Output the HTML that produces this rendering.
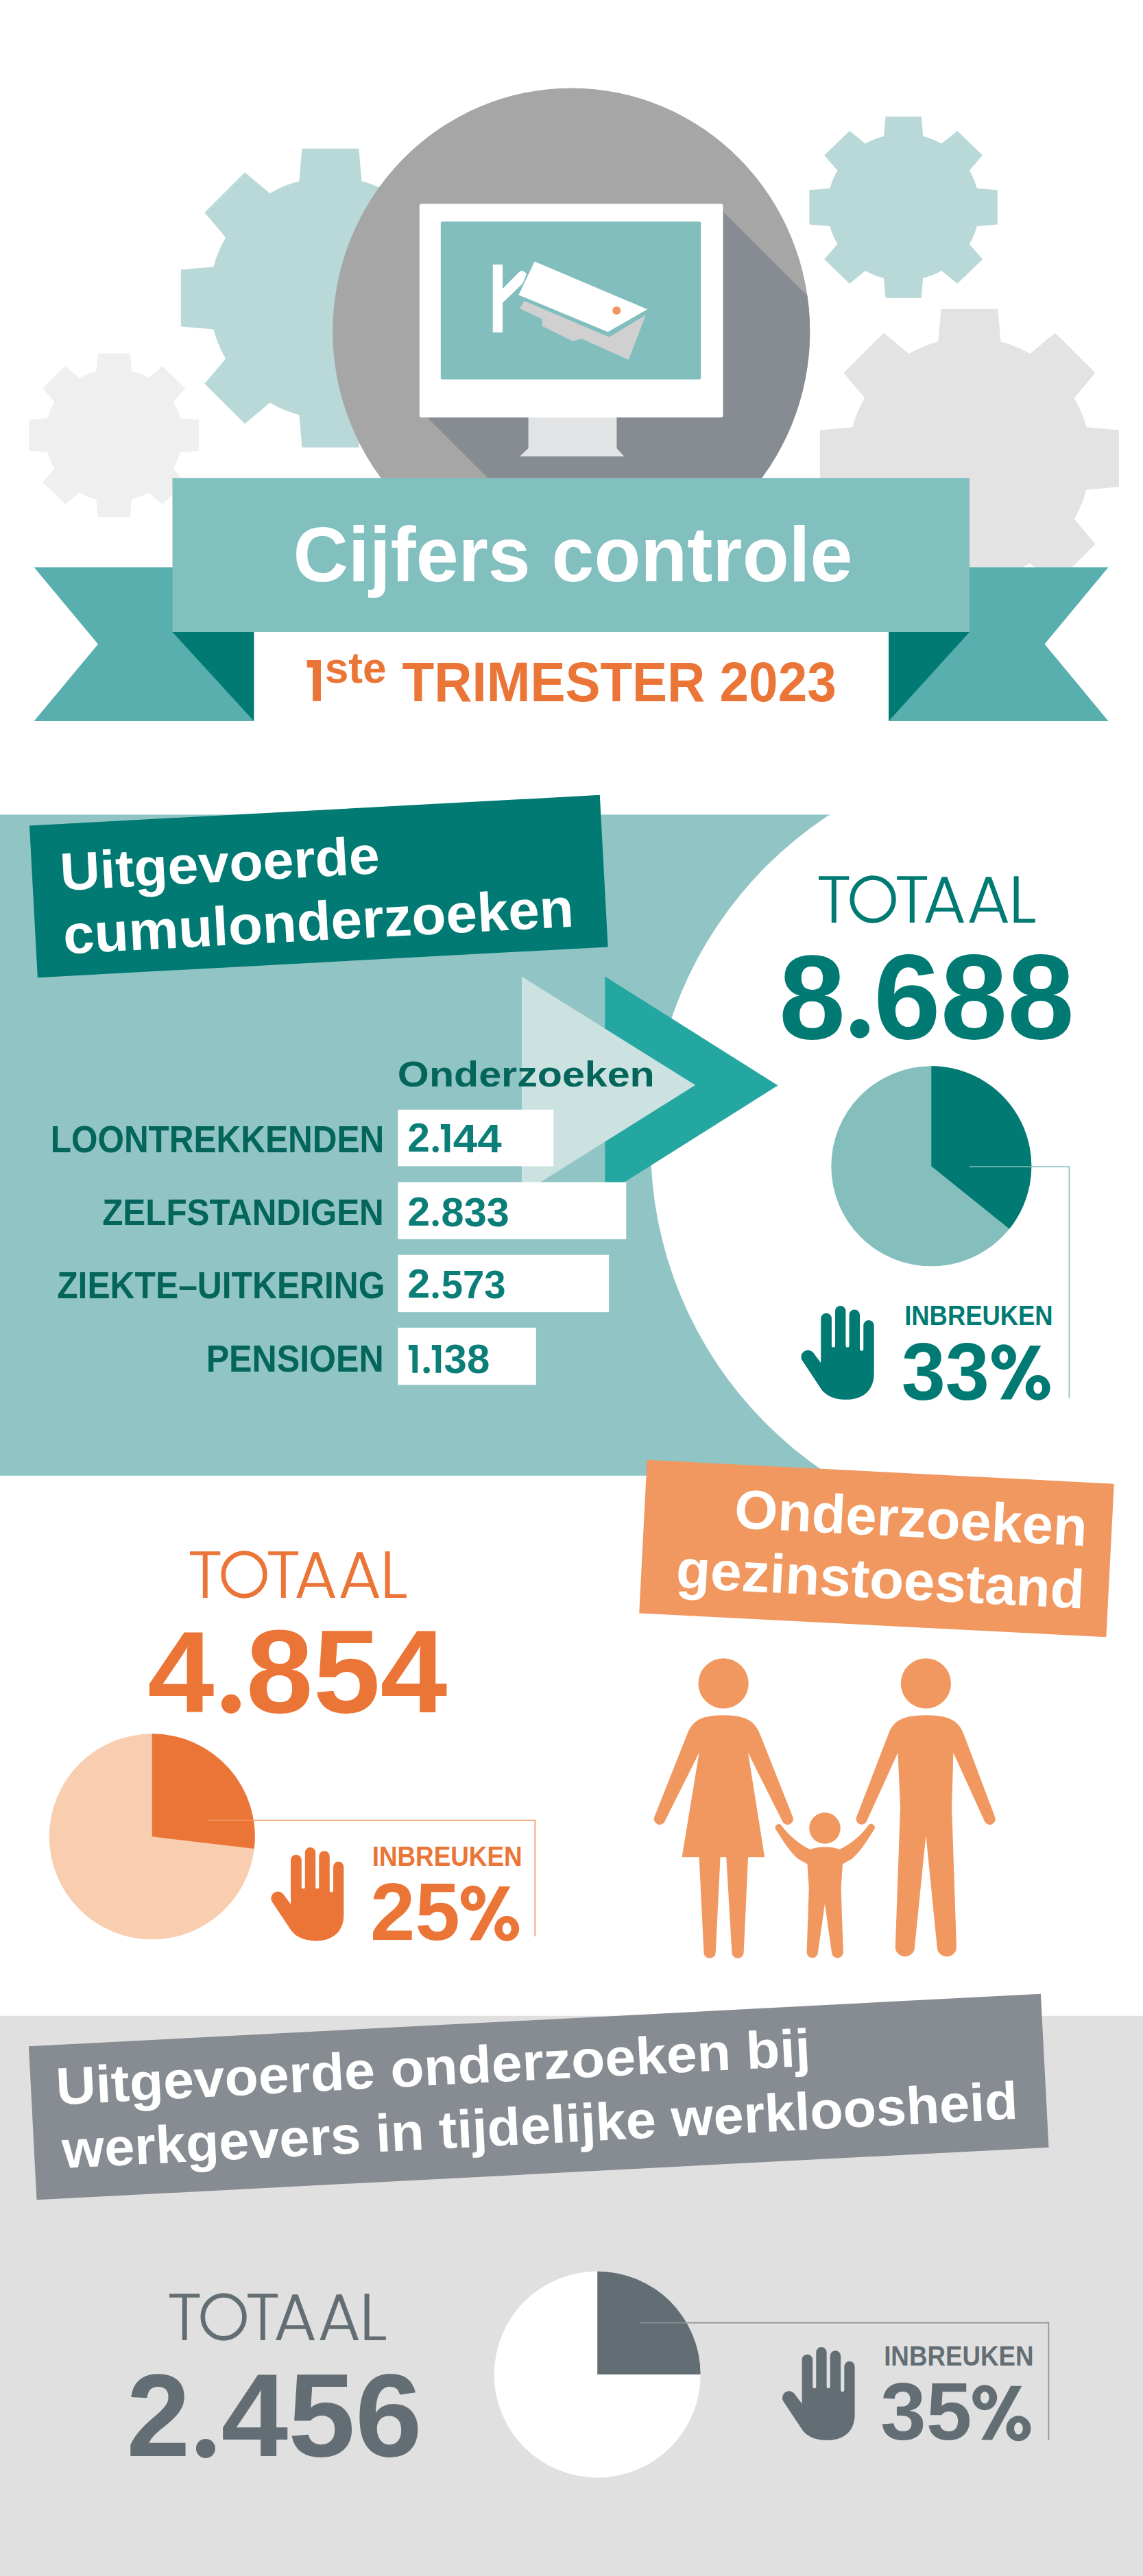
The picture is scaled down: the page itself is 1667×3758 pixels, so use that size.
<!DOCTYPE html>
<html><head><meta charset="utf-8"><title>Cijfers controle</title>
<style>html,body{margin:0;padding:0;background:#fff}svg{display:block}text{font-family:"Liberation Sans", sans-serif}</style>
</head><body>
<svg width="1667" height="3758" viewBox="0 0 1667 3758">
<rect width="1667" height="3758" fill="#fff"/>

<path d="M436.34 264.37 L440.48 216.85 L523.32 216.85 L527.46 264.37 A176.46 176.46 0 0 1 570.23 282.09 L606.76 251.41 L665.34 309.99 L634.66 346.52 A176.46 176.46 0 0 1 652.38 389.29 L699.90 393.43 L699.90 476.27 L652.38 480.41 A176.46 176.46 0 0 1 634.66 523.18 L665.34 559.71 L606.76 618.29 L570.23 587.61 A176.46 176.46 0 0 1 527.46 605.33 L523.32 652.85 L440.48 652.85 L436.34 605.33 A176.46 176.46 0 0 1 393.57 587.61 L357.04 618.29 L298.46 559.71 L329.14 523.18 A176.46 176.46 0 0 1 311.42 480.41 L263.90 476.27 L263.90 393.43 L311.42 389.29 A176.46 176.46 0 0 1 329.14 346.52 L298.46 309.99 L357.04 251.41 L393.57 282.09 A176.46 176.46 0 0 1 436.34 264.37 Z" fill="#b9d8d8"/><path d="M140.35 541.47 L142.70 515.40 L189.70 515.40 L192.05 541.47 A100.13 96.81 0 0 1 216.32 551.19 L237.05 534.36 L270.29 566.50 L252.88 586.54 A100.13 96.81 0 0 1 262.93 610.00 L289.90 612.28 L289.90 657.72 L262.93 660.00 A100.13 96.81 0 0 1 252.88 683.46 L270.29 703.50 L237.05 735.64 L216.32 718.81 A100.13 96.81 0 0 1 192.05 728.53 L189.70 754.60 L142.70 754.60 L140.35 728.53 A100.13 96.81 0 0 1 116.08 718.81 L95.35 735.64 L62.11 703.50 L79.52 683.46 A100.13 96.81 0 0 1 69.47 660.00 L42.50 657.72 L42.50 612.28 L69.47 610.00 A100.13 96.81 0 0 1 79.52 586.54 L62.11 566.50 L95.35 534.36 L116.08 551.19 A100.13 96.81 0 0 1 140.35 541.47 Z" fill="#efefef"/><path d="M1288.93 198.76 L1291.53 169.90 L1343.67 169.90 L1346.27 198.76 A111.06 107.17 0 0 1 1373.19 209.52 L1396.18 190.89 L1433.05 226.47 L1413.74 248.66 A111.06 107.17 0 0 1 1424.89 274.63 L1454.80 277.14 L1454.80 327.46 L1424.89 329.97 A111.06 107.17 0 0 1 1413.74 355.94 L1433.05 378.13 L1396.18 413.71 L1373.19 395.08 A111.06 107.17 0 0 1 1346.27 405.84 L1343.67 434.70 L1291.53 434.70 L1288.93 405.84 A111.06 107.17 0 0 1 1262.01 395.08 L1239.02 413.71 L1202.15 378.13 L1221.46 355.94 A111.06 107.17 0 0 1 1210.31 329.97 L1180.40 327.46 L1180.40 277.14 L1210.31 274.63 A111.06 107.17 0 0 1 1221.46 248.66 L1202.15 226.47 L1239.02 190.89 L1262.01 209.52 A111.06 107.17 0 0 1 1288.93 198.76 Z" fill="#b9d8d8"/><path d="M1368.32 498.35 L1372.46 450.80 L1455.34 450.80 L1459.48 498.35 A176.54 176.54 0 0 1 1502.27 516.07 L1538.82 485.38 L1597.42 543.98 L1566.73 580.53 A176.54 176.54 0 0 1 1584.45 623.32 L1632.00 627.46 L1632.00 710.34 L1584.45 714.48 A176.54 176.54 0 0 1 1566.73 757.27 L1597.42 793.82 L1538.82 852.42 L1502.27 821.73 A176.54 176.54 0 0 1 1459.48 839.45 L1455.34 887.00 L1372.46 887.00 L1368.32 839.45 A176.54 176.54 0 0 1 1325.53 821.73 L1288.98 852.42 L1230.38 793.82 L1261.07 757.27 A176.54 176.54 0 0 1 1243.35 714.48 L1195.80 710.34 L1195.80 627.46 L1243.35 623.32 A176.54 176.54 0 0 1 1261.07 580.53 L1230.38 543.98 L1288.98 485.38 L1325.53 516.07 A176.54 176.54 0 0 1 1368.32 498.35 Z" fill="#e3e3e3"/>
<defs><clipPath id="cc"><ellipse cx="833.25" cy="483.5" rx="348" ry="355"/></clipPath>
<clipPath id="sec2"><rect x="0" y="1188.4" width="1667" height="964.4"/></clipPath></defs>
<ellipse cx="833.25" cy="483.5" rx="348" ry="355" fill="#a6a6a6"/>
<g clip-path="url(#cc)">
<path d="M1054.5 308.5 L1654.5 908.5 L1223 1209 L623 609 Z" fill="#878b92"/>
</g>
<rect x="611.8" y="297.3" width="442.7" height="311.7" rx="3" fill="#ffffff"/>
<rect x="642.8" y="323.2" width="379.4" height="230.3" rx="2" fill="#82bebe"/>
<path d="M770.6 609 L899.4 609 L899.4 654 L910.3 665.8 L757.9 665.8 L770.6 654 Z" fill="#e2e3e5"/>
<!-- camera -->
<path d="M764.8 438.9 L888.4 491.7 L941.8 459.4 L916.8 524.7 L847.9 494 L835.8 498.1 L791 475.8 L791 465.5 L758 450.1 Z" fill="#d0d0d0"/>
<rect x="718.7" y="385.9" width="14.3" height="99" fill="#fff"/>
<path d="M733 421.2 L756.5 397.6 A6 6 0 0 1 765 396.5 L768 399.5 L762.6 413.2 L733 441.7 Z" fill="#fff"/>
<path d="M779.6 381.4 L944.1 451.2 L886.5 484.2 L756.4 430.3 Z" fill="#fff"/>
<circle cx="899.3" cy="453" r="6.1" fill="#f0965f"/>
<!-- banner -->
<path d="M49.6 827.5 L370.3 827.5 L370.3 1052 L49.6 1052 L143 939.7 Z" fill="#58afae"/>
<path d="M251.5 922 L370.3 922 L370.3 1052 Z" fill="#007a73"/>
<path d="M1616.5 827.5 L1296 827.5 L1296 1052 L1616.5 1052 L1523.5 939.7 Z" fill="#58afae"/>
<path d="M1414 922 L1296 922 L1296 1052 Z" fill="#007a73"/>
<rect x="251.5" y="697.3" width="1162.5" height="224.7" fill="#82bfbf"/>
<text x="427.46" y="848.00" font-size="112.26" font-weight="700" fill="#fff" textLength="815.92" lengthAdjust="spacingAndGlyphs">Cijfers controle</text>
<path d="M447.7 962.9 L468 962.9 L468 1022.8 L456.1 1022.8 L456.1 973.8 L447.7 973.8 Z" fill="#eb7537"/><text x="473.63" y="995.50" font-size="62.46" font-weight="700" fill="#eb7537" textLength="89.96" lengthAdjust="spacingAndGlyphs">ste</text><text x="586.54" y="1023.10" font-size="81.86" font-weight="700" fill="#eb7537" textLength="633.17" lengthAdjust="spacingAndGlyphs">TRIMESTER 2023</text>


<rect x="0" y="1188.4" width="1667" height="964.4" fill="#91c5c5"/>
<circle cx="1523.7" cy="1670.3" r="574.8" fill="#fff"/>
<g transform="translate(464.8 1293.0) rotate(-3.07)"><rect x="-416.5" y="-111.0" width="833" height="222" fill="#007a73"/><text x="-375.51" y="-14.20" font-size="77.52" font-weight="700" fill="#fff" textLength="466.48" lengthAdjust="spacingAndGlyphs">Uitgevoerde</text>
<text x="-375.93" y="78.50" font-size="80.15" font-weight="700" fill="#fff" textLength="745.36" lengthAdjust="spacingAndGlyphs">cumulonderzoeken</text></g>
<path d="M882.3 1424.6 L1134.5 1583.5 L882.3 1742.4 Z" fill="#24a6a1"/>
<path d="M761 1424.6 L1014.1 1583.1 L761 1741.6 Z" fill="#cce2e1"/>
<rect x="580.3" y="1618.8" width="226.9" height="82.5" fill="#fff"/>
<rect x="580.3" y="1724.6" width="333" height="83.1" fill="#fff"/>
<rect x="580.3" y="1830.7" width="307.8" height="83.5" fill="#fff"/>
<rect x="580.3" y="1936.9" width="201.4" height="83.4" fill="#fff"/>
<text x="579.85" y="1584.50" font-size="51.70" font-weight="700" fill="#03655b" textLength="374.95" lengthAdjust="spacingAndGlyphs">Onderzoeken</text><text x="73.70" y="1681.00" font-size="55.29" font-weight="700" fill="#03655b" textLength="486.56" lengthAdjust="spacingAndGlyphs">LOONTREKKENDEN</text><text x="149.20" y="1787.00" font-size="53.99" font-weight="700" fill="#03655b" textLength="410.56" lengthAdjust="spacingAndGlyphs">ZELFSTANDIGEN</text><text x="83.19" y="1894.20" font-size="56.01" font-weight="700" fill="#03655b" textLength="478.32" lengthAdjust="spacingAndGlyphs">ZIEKTE–UITKERING</text><text x="300.65" y="2001.00" font-size="55.14" font-weight="700" fill="#03655b" textLength="259.11" lengthAdjust="spacingAndGlyphs">PENSIOEN</text>
<text x="594.24" y="1680.30" font-size="58.57" font-weight="700" fill="#0a7e77" textLength="32.64" lengthAdjust="spacingAndGlyphs">2</text><circle cx="635.3" cy="1676.6" r="4.7" fill="#0a7e77"/><path fill="#0a7e77" d="M642.9 1640.1L656.3 1640.1L656.3 1680.8L648.4 1680.8L648.4 1647.5L642.9 1647.5Z"/><text x="660.78" y="1680.80" font-size="57.43" font-weight="700" fill="#0a7e77" textLength="70.77" lengthAdjust="spacingAndGlyphs">44</text><text x="594.23" y="1788.30" font-size="58.85" font-weight="700" fill="#0a7e77" textLength="32.88" lengthAdjust="spacingAndGlyphs">2</text><circle cx="635.1" cy="1784.5" r="4.6" fill="#0a7e77"/><text x="643.62" y="1788.50" font-size="59.14" font-weight="700" fill="#0a7e77" textLength="99.08" lengthAdjust="spacingAndGlyphs">833</text><text x="594.23" y="1893.30" font-size="58.85" font-weight="700" fill="#0a7e77" textLength="32.88" lengthAdjust="spacingAndGlyphs">2</text><circle cx="635.1" cy="1889.8" r="4.6" fill="#0a7e77"/><text x="643.72" y="1893.50" font-size="58.14" font-weight="700" fill="#0a7e77" textLength="93.96" lengthAdjust="spacingAndGlyphs">573</text><path fill="#0a7e77" d="M595.9 1962.1L609.1 1962.1L609.1 2002.8L601.4 2002.8L601.4 1969.6L595.9 1969.6Z"/><circle cx="622.2" cy="1998.8" r="4.8" fill="#0a7e77"/><path fill="#0a7e77" d="M629.8 1962.1L643.2 1962.1L643.2 2002.8L635.5 2002.8L635.5 1969.6L629.8 1969.6Z"/><text x="647.60" y="2003.00" font-size="59.42" font-weight="700" fill="#0a7e77" textLength="66.68" lengthAdjust="spacingAndGlyphs">38</text>
<path transform="translate(1194.0 1278.2)" fill="#007a73" d="M0 0H44.3V5.6H0Z M18.8 0H25.7V67.7H18.8Z M114.2 0H158.1V5.6H114.2Z M132.8 0H139.8V67.7H132.8Z M284.6 0H291.6V67.7H284.6Z M284.6 62.4H315.8V67.7H284.6Z"/><path transform="translate(1194.0 1278.2)" fill="#007a73" fill-rule="evenodd" d="M179.6 1L187.4 1L212 67.7L204.5 67.7L198.65 51.6L168.3 51.6L162.5 67.7L155.2 67.7Z M183.4 9.6L196.7 46.1L170.3 46.1Z M243.8 1L251.60000000000002 1L276.2 67.7L268.7 67.7L262.85 51.6L232.5 51.6L226.7 67.7L219.39999999999998 67.7Z M247.60000000000002 9.6L260.9 46.1L234.5 46.1Z"/><ellipse cx="1273.1" cy="1311.9" rx="30.35" ry="31.45" fill="none" stroke="#007a73" stroke-width="6.6"/><text x="1136.02" y="1514.50" font-size="174.57" font-weight="700" fill="#007a73" textLength="96.99" lengthAdjust="spacingAndGlyphs">8</text><circle cx="1254.0" cy="1500.7" r="14" fill="#007a73"/><text x="1274.19" y="1514.50" font-size="175.43" font-weight="700" fill="#007a73" textLength="292.71" lengthAdjust="spacingAndGlyphs">688</text>
<circle cx="1358.3" cy="1701.3" r="146" fill="#84bfbe"/><path d="M1358.3 1701.3 L1358.3 1555.3 A146 146 0 0 1 1472.08 1792.78 Z" fill="#007a73"/>
<path d="M1413.8 1702 L1559.4 1702 L1559.4 2039.8" fill="none" stroke="#84bfbe" stroke-width="1.6"/>
<path transform="translate(1159.99 1894.99) scale(1.0007)" d="M37.2 93.3 L37.2 28.65 A7.85 7.85 0 0 1 52.9 28.65 L52.9 67.95 A2.55 2.55 0 0 0 58 67.95 L58 17.7 A7.7 7.7 0 0 1 73.4 17.7 L73.4 67.95 A2.55 2.55 0 0 0 78.5 67.95 L78.5 23.15 A7.75 7.75 0 0 1 94 23.15 L94 73 A2.6 2.6 0 0 0 99.2 73 L99.2 38.6 A7.7 7.7 0 0 1 114.6 38.6 L114.6 109 C114.6 132 100 146.7 74 146.7 C55 146.7 42 140 35 127.4 L10.5 90.5 A9.8 9.8 0 0 1 26.2 78.5 Z" fill="#007a73"/>
<text x="1319.20" y="1933.00" font-size="40.01" font-weight="700" fill="#007a73" textLength="216.47" lengthAdjust="spacingAndGlyphs">INBREUKEN</text><text x="1314.67" y="2041.50" font-size="119.28" font-weight="700" fill="#007a73" textLength="128.30" lengthAdjust="spacingAndGlyphs">33</text><path fill="#007a73" fill-rule="evenodd" d="M1445.90 1979.70a18.0 18.5 0 1 0 36.0 0a18.0 18.5 0 1 0 -36.0 0ZM1457.50 1979.70a6.4 8.8 0 1 0 12.8 0a6.4 8.8 0 1 0 -12.8 0ZM1495.70 2024.50a18.0 18.5 0 1 0 36.0 0a18.0 18.5 0 1 0 -36.0 0ZM1507.30 2024.50a6.4 8.8 0 1 0 12.8 0a6.4 8.8 0 1 0 -12.8 0Z"/><path fill="#007a73" d="M1458.9 2041.5L1475 2041.5L1518.3 1963.1L1502.2 1963.1Z"/>


<g transform="translate(1278.5 2259.05) rotate(2.93)"><rect x="-341.0" y="-112.0" width="682" height="224" fill="#f09860"/><text x="-209.71" y="-19.50" font-size="80.00" font-weight="700" fill="#fff" textLength="514.89" lengthAdjust="spacingAndGlyphs">Onderzoeken</text>
<text x="-290.13" y="72.00" font-size="80.00" font-weight="700" fill="#fff" textLength="596.24" lengthAdjust="spacingAndGlyphs">gezinstoestand</text></g>
<path transform="translate(277.0 2263.2)" fill="#eb7537" d="M0 0H44.3V5.6H0Z M18.8 0H25.7V67.7H18.8Z M114.2 0H158.1V5.6H114.2Z M132.8 0H139.8V67.7H132.8Z M284.6 0H291.6V67.7H284.6Z M284.6 62.4H315.8V67.7H284.6Z"/><path transform="translate(277.0 2263.2)" fill="#eb7537" fill-rule="evenodd" d="M179.6 1L187.4 1L212 67.7L204.5 67.7L198.65 51.6L168.3 51.6L162.5 67.7L155.2 67.7Z M183.4 9.6L196.7 46.1L170.3 46.1Z M243.8 1L251.60000000000002 1L276.2 67.7L268.7 67.7L262.85 51.6L232.5 51.6L226.7 67.7L219.39999999999998 67.7Z M247.60000000000002 9.6L260.9 46.1L234.5 46.1Z"/><ellipse cx="356.1" cy="2296.8999999999996" rx="30.35" ry="31.45" fill="none" stroke="#eb7537" stroke-width="6.6"/><text x="215.35" y="2497.70" font-size="168.79" font-weight="700" fill="#eb7537" textLength="97.13" lengthAdjust="spacingAndGlyphs">4</text><circle cx="336.9" cy="2485.8" r="14" fill="#eb7537"/><text x="358.89" y="2497.70" font-size="171.71" font-weight="700" fill="#eb7537" textLength="293.52" lengthAdjust="spacingAndGlyphs">854</text>
<circle cx="221.8" cy="2679.3" r="150" fill="#f8cdb0"/><path d="M221.8 2679.3 L221.8 2529.3 A150 150 0 0 1 370.74 2697.06 Z" fill="#eb7537"/>
<path d="M302.6 2655.5 L780.3 2655.5 L780.3 2824.8" fill="none" stroke="#f0965f" stroke-width="1.6"/>
<path transform="translate(386.91 2684.91) scale(0.9985)" d="M37.2 93.3 L37.2 28.65 A7.85 7.85 0 0 1 52.9 28.65 L52.9 67.95 A2.55 2.55 0 0 0 58 67.95 L58 17.7 A7.7 7.7 0 0 1 73.4 17.7 L73.4 67.95 A2.55 2.55 0 0 0 78.5 67.95 L78.5 23.15 A7.75 7.75 0 0 1 94 23.15 L94 73 A2.6 2.6 0 0 0 99.2 73 L99.2 38.6 A7.7 7.7 0 0 1 114.6 38.6 L114.6 109 C114.6 132 100 146.7 74 146.7 C55 146.7 42 140 35 127.4 L10.5 90.5 A9.8 9.8 0 0 1 26.2 78.5 Z" fill="#eb7537"/>
<text x="542.67" y="2721.80" font-size="40.16" font-weight="700" fill="#eb7537" textLength="218.93" lengthAdjust="spacingAndGlyphs">INBREUKEN</text><text x="540.01" y="2829.50" font-size="118.59" font-weight="700" fill="#eb7537" textLength="130.78" lengthAdjust="spacingAndGlyphs">25</text><path fill="#eb7537" fill-rule="evenodd" d="M671.90 2769.20a18.0 18.5 0 1 0 36.0 0a18.0 18.5 0 1 0 -36.0 0ZM683.50 2769.20a6.4 8.8 0 1 0 12.8 0a6.4 8.8 0 1 0 -12.8 0ZM721.20 2813.50a18.0 18.5 0 1 0 36.0 0a18.0 18.5 0 1 0 -36.0 0ZM732.80 2813.50a6.4 8.8 0 1 0 12.8 0a6.4 8.8 0 1 0 -12.8 0Z"/><path fill="#eb7537" d="M684.9 2830.5L701 2830.5L744.3 2752.1L728.2 2752.1Z"/>
<g transform="translate(940 2400) scale(0.45496)" fill="#f09860">
<circle cx="253" cy="123" r="80.5"/>
<circle cx="902" cy="123" r="80.5"/>
<circle cx="578" cy="587" r="50"/>
<!-- woman -->
<path d="M135 290 C150 250 170 225 253 225 C336 225 356 250 372 290 L475 550 A17 17 0 0 1 442 565 L332 345 L385 680 L332 680 L318 985 A18 18 0 0 1 280 985 L262 680 L243 680 L228 985 A18 18 0 0 1 190 985 L175 680 L120 680 L175 345 L65 565 A17 17 0 0 1 32 550 Z"/>
<!-- man -->
<path d="M780 290 C795 250 815 225 902 225 C989 225 1010 250 1025 290 L1123 550 A17 17 0 0 1 1090 565 L990 345 L985 520 L1000 968 A31 31 0 0 1 938 968 L902 610 L866 968 A31 31 0 0 1 804 968 L820 520 L812 345 L712 565 A17 17 0 0 1 680 550 Z"/>
<!-- child -->
<path d="M530 655 C560 645 598 645 625 655 C660 640 695 610 720 575 A12 12 0 0 1 738 588 C715 625 690 665 665 685 L635 702 L630 780 L637 985 A18 18 0 0 1 600 985 L578 830 L556 985 A18 18 0 0 1 520 985 L527 780 L522 702 L492 685 C467 665 442 625 419 588 A12 12 0 0 1 436 575 C462 610 497 640 530 655 Z"/>
</g>


<rect x="0" y="2940.8" width="1667" height="817.1999999999998" fill="#e0e0e0"/>
<g transform="translate(785.7 3059.0) rotate(-2.97)"><rect x="-739.0" y="-112.15" width="1478" height="224.3" fill="#878b92"/><text x="-702.47" y="-25.00" font-size="76.63" font-weight="700" fill="#fff" textLength="1101.76" lengthAdjust="spacingAndGlyphs">Uitgevoerde onderzoeken bij</text>
<text x="-698.30" y="68.00" font-size="77.18" font-weight="700" fill="#fff" textLength="1395.70" lengthAdjust="spacingAndGlyphs">werkgevers in tijdelijke werkloosheid</text></g>
<path transform="translate(247.0 3346.2)" fill="#636e74" d="M0 0H44.3V5.6H0Z M18.8 0H25.7V67.7H18.8Z M114.2 0H158.1V5.6H114.2Z M132.8 0H139.8V67.7H132.8Z M284.6 0H291.6V67.7H284.6Z M284.6 62.4H315.8V67.7H284.6Z"/><path transform="translate(247.0 3346.2)" fill="#636e74" fill-rule="evenodd" d="M179.6 1L187.4 1L212 67.7L204.5 67.7L198.65 51.6L168.3 51.6L162.5 67.7L155.2 67.7Z M183.4 9.6L196.7 46.1L170.3 46.1Z M243.8 1L251.60000000000002 1L276.2 67.7L268.7 67.7L262.85 51.6L232.5 51.6L226.7 67.7L219.39999999999998 67.7Z M247.60000000000002 9.6L260.9 46.1L234.5 46.1Z"/><ellipse cx="326.1" cy="3379.8999999999996" rx="30.35" ry="31.45" fill="none" stroke="#636e74" stroke-width="6.6"/><text x="184.39" y="3582.50" font-size="170.55" font-weight="700" fill="#636e74" textLength="92.69" lengthAdjust="spacingAndGlyphs">2</text><circle cx="299.9" cy="3572.0" r="14" fill="#636e74"/><text x="322.59" y="3582.50" font-size="172.13" font-weight="700" fill="#636e74" textLength="293.02" lengthAdjust="spacingAndGlyphs">456</text>
<circle cx="871.2" cy="3464" r="150.5" fill="#ffffff"/><path d="M871.2 3464 L871.2 3313.5 A150.5 150.5 0 0 1 1021.70 3464.00 Z" fill="#636e74"/>
<path d="M933.7 3388.6 L1529.4 3388.6 L1529.4 3559.6" fill="none" stroke="#8a9096" stroke-width="1.6"/>
<path transform="translate(1132.54 3413.94) scale(0.9956)" d="M37.2 93.3 L37.2 28.65 A7.85 7.85 0 0 1 52.9 28.65 L52.9 67.95 A2.55 2.55 0 0 0 58 67.95 L58 17.7 A7.7 7.7 0 0 1 73.4 17.7 L73.4 67.95 A2.55 2.55 0 0 0 78.5 67.95 L78.5 23.15 A7.75 7.75 0 0 1 94 23.15 L94 73 A2.6 2.6 0 0 0 99.2 73 L99.2 38.6 A7.7 7.7 0 0 1 114.6 38.6 L114.6 109 C114.6 132 100 146.7 74 146.7 C55 146.7 42 140 35 127.4 L10.5 90.5 A9.8 9.8 0 0 1 26.2 78.5 Z" fill="#636e74"/>
<text x="1289.17" y="3450.80" font-size="40.16" font-weight="700" fill="#636e74" textLength="218.42" lengthAdjust="spacingAndGlyphs">INBREUKEN</text><text x="1284.00" y="3559.00" font-size="117.88" font-weight="700" fill="#636e74" textLength="133.27" lengthAdjust="spacingAndGlyphs">35</text><path fill="#636e74" fill-rule="evenodd" d="M1418.20 3497.70a18.0 18.5 0 1 0 36.0 0a18.0 18.5 0 1 0 -36.0 0ZM1429.80 3497.70a6.4 8.8 0 1 0 12.8 0a6.4 8.8 0 1 0 -12.8 0ZM1467.40 3542.80a18.0 18.5 0 1 0 36.0 0a18.0 18.5 0 1 0 -36.0 0ZM1479.00 3542.80a6.4 8.8 0 1 0 12.8 0a6.4 8.8 0 1 0 -12.8 0Z"/><path fill="#636e74" d="M1431.3 3559.6L1447 3559.6L1490.3 3480.7L1474.2 3480.7Z"/>

</svg>
</body></html>
